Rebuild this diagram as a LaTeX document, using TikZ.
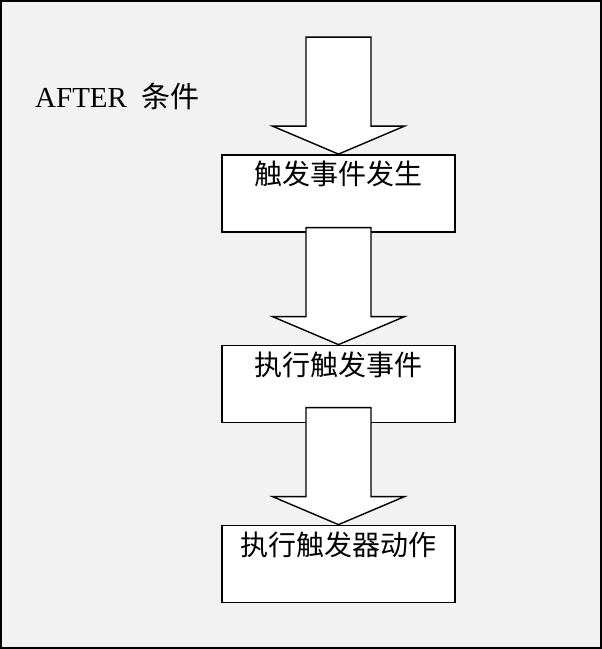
\documentclass[tikz,border=0pt]{standalone}
\usepackage{fontspec}
\setmainfont{Liberation Serif}
\newfontfamily\cjk{Noto Sans CJK SC}
\newcommand{\blockdown}[1]{\draw[blk] (#1) -- ++(66,-28) -- ++(-33.5,0) -- ++(0,-89) -- ++(-65,0) -- ++(0,89) -- ++(-33.5,0) -- cycle;}

\begin{document}
\begin{tikzpicture}[x=1pt,y=-1pt]
\tikzstyle{frame}=[draw,line width=2pt,fill=black!5];
\tikzstyle{box}=[draw,fill=white,line width=1.8pt,minimum width=233pt,minimum height=77pt,inner sep=0pt];
\tikzstyle{txt}=[font=\fontsize{28}{32}\selectfont];
\tikzstyle{blk}=[draw,fill=white,line width=1.4pt,line join=miter];
\useasboundingbox (0,0) rectangle (602,649);
\draw [frame] (1,1) rectangle (601,648);
\node (cond) [txt,anchor=base west,inner sep=0pt] at (35,107) {\fontsize{29}{32}\selectfont AFTER\hspace{0.5em}{\cjk 条件}};

\node (fire) [box,label={[txt,anchor=center,yshift=-20pt]north:{\cjk 触发事件发生}}] at (338.5,193.5) {};
\blockdown{fire.north}

\node (exec) [box,label={[txt,anchor=center,yshift=-20pt]north:{\cjk 执行触发事件}}] at (338.5,384) {};
\blockdown{exec.north}

\node (act) [box,label={[txt,anchor=center,yshift=-20pt]north:{\cjk 执行触发器动作}}] at (338.5,564) {};
\blockdown{act.north}
\end{tikzpicture}
\end{document}
